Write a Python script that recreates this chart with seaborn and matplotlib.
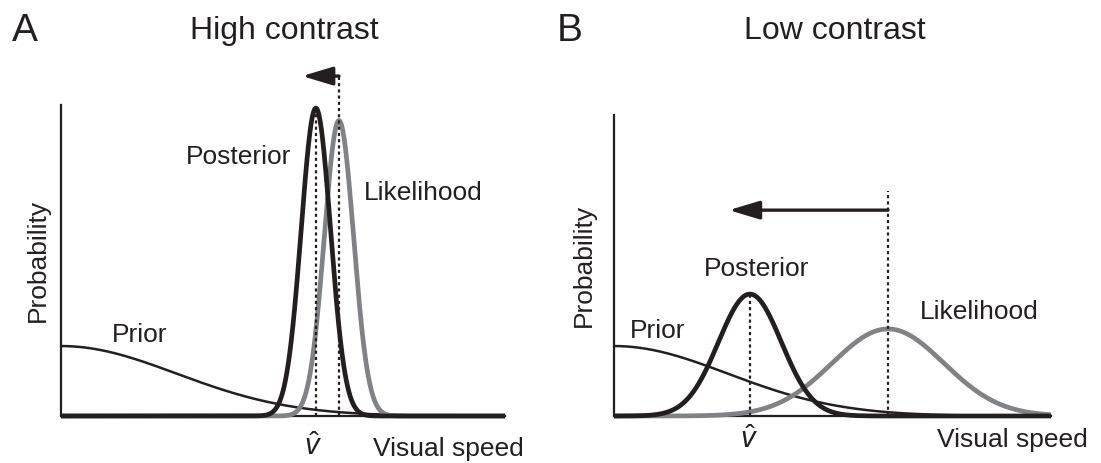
import numpy as np
import pandas as pd
import matplotlib
matplotlib.use("Agg")
import matplotlib.pyplot as plt
import seaborn as sns

# ---- distribution parameters (arbitrary speed / probability units) ----
panel_letters = ["A", "B"]
panel_titles = ["High contrast", "Low contrast"]

prior_peak = [0.225, 0.225]
prior_sd = [2.6, 2.6]

likelihood_mean = [6.26, 6.27]
likelihood_sd = [0.33, 1.28]
likelihood_peak = [0.95, 0.28]

posterior_mean = [5.74, 3.11]
posterior_sd = [0.33, 0.72]
posterior_peak = [0.99, 0.392]

# bias arrow: drawn from the likelihood mean towards slower speeds
shift_arrow_level = [1.093, 0.662]
shift_arrow_tip = [5.43, 2.63]
likelihood_guide_top = [1.093, 0.723]

speed_limits = [0.0, 10.0]
prob_top = [1.0, 0.968]

# ---- styling ----
W, H = 1101, 463
INK = "#231f20"
GREY = "#808285"

sns.set_style("white")
plt.rcParams["font.family"] = ["Liberation Sans", "DejaVu Sans"]
plt.rcParams["mathtext.fontset"] = "custom"
plt.rcParams["mathtext.rm"] = "Liberation Sans"
plt.rcParams["mathtext.it"] = "Liberation Sans:italic"

fig = plt.figure(figsize=(W / 100, H / 100), dpi=100)


def px_text(x, y, s, **kw):
    """Place text using pixel coordinates measured from the top-left corner."""
    fig.text(x / W, 1 - y / H, s, color=INK, **kw)


# axes frames in pixels: left, top, right, bottom
frames = [(61, 105, 505, 416), (614, 115, 1051, 416)]

# label placements in pixels
letter_pos = [(12, 41), (557, 41)]
title_pos = [(284, 39), (835, 39)]
posterior_lbl = [(186, 164), (704, 276)]
likelihood_lbl = [(364, 200), (920, 319)]
prior_lbl = [(112, 342), (630, 338)]
vhat_pos = [(313, 455), (749, 448)]
speed_lbl = [(373, 456), (937, 447)]
ylabel_right = [50, 596]

speed = np.linspace(speed_limits[0], speed_limits[1], 1201)


def bump(x, mu, sd, peak):
    return peak * np.exp(-0.5 * ((x - mu) / sd) ** 2)


for i in range(2):
    l, t, r, b = frames[i]
    ax = fig.add_axes([l / W, 1 - b / H, (r - l) / W, (b - t) / H])

    df = pd.DataFrame({
        "speed": speed,
        "Prior": bump(speed, 0.0, prior_sd[i], prior_peak[i]),
        "Likelihood": bump(speed, likelihood_mean[i], likelihood_sd[i], likelihood_peak[i]),
        "Posterior": bump(speed, posterior_mean[i], posterior_sd[i], posterior_peak[i]),
    })

    sns.lineplot(data=df, x="speed", y="Prior", ax=ax, color=INK, lw=1.8,
                 clip_on=False, zorder=3)
    sns.lineplot(data=df, x="speed", y="Likelihood", ax=ax, color=GREY, lw=3.4,
                 clip_on=False, zorder=4, solid_capstyle="butt")
    sns.lineplot(data=df, x="speed", y="Posterior", ax=ax, color=INK, lw=3.4,
                 clip_on=False, zorder=5, solid_capstyle="butt")

    # dotted guides at the posterior and likelihood means
    ax.vlines(posterior_mean[i], 0, posterior_peak[i], colors=INK, lw=1.6,
              linestyles=(0, (1.4, 1.4)), clip_on=False, zorder=6)
    ax.vlines(likelihood_mean[i], 0, likelihood_guide_top[i], colors=INK, lw=1.6,
              linestyles=(0, (1.4, 1.4)), clip_on=False, zorder=6)

    # arrow showing the shift of the estimate towards slow speeds
    ax.annotate("", xy=(shift_arrow_tip[i], shift_arrow_level[i]),
                xytext=(likelihood_mean[i], shift_arrow_level[i]),
                annotation_clip=False,
                arrowprops=dict(arrowstyle="-|>,head_length=0.93,head_width=0.28",
                                mutation_scale=20, color=INK, lw=2.4,
                                shrinkA=0, shrinkB=0))

    ax.set_xlim(*speed_limits)
    ax.set_ylim(0, prob_top[i])
    ax.set_xticks([])
    ax.set_yticks([])
    ax.set_xlabel("")
    ax.set_ylabel("Probability", fontsize=19, color=INK)
    ax.yaxis.set_label_coords((ylabel_right[i] - l) / (r - l), 0.5)
    for side in ("top", "right"):
        ax.spines[side].set_visible(False)
    for side in ("left", "bottom"):
        ax.spines[side].set_color(INK)
        ax.spines[side].set_linewidth(1.6)
    ax.patch.set_alpha(0)

    px_text(*letter_pos[i], panel_letters[i], fontsize=28, va="baseline", ha="left")
    px_text(*title_pos[i], panel_titles[i], fontsize=23, va="baseline", ha="center")
    px_text(*posterior_lbl[i], "Posterior", fontsize=19, va="baseline", ha="left")
    px_text(*likelihood_lbl[i], "Likelihood", fontsize=19, va="baseline", ha="left")
    px_text(*prior_lbl[i], "Prior", fontsize=19, va="baseline", ha="left")
    px_text(*vhat_pos[i], r"$\hat{v}$", fontsize=21, va="baseline", ha="center")
    px_text(*speed_lbl[i], "Visual speed", fontsize=19, va="baseline", ha="left")

fig.savefig("out.png", dpi=100, facecolor="white")
